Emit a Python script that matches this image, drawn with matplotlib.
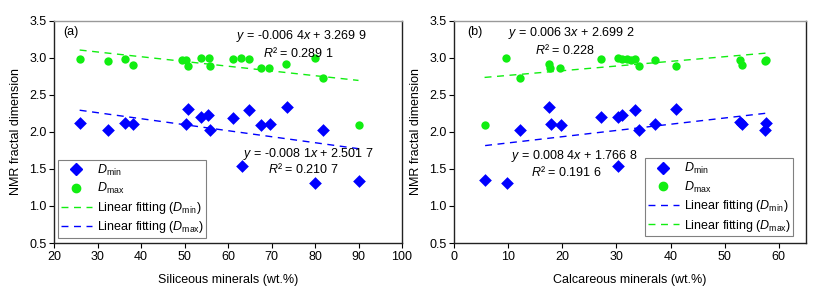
import matplotlib
matplotlib.use("Agg")
import matplotlib.pyplot as plt
import numpy as np
from matplotlib.lines import Line2D

plt.rcParams['font.family'] = ['Liberation Sans', 'DejaVu Sans']
plt.rcParams['mathtext.fontset'] = 'custom'
plt.rcParams['mathtext.rm'] = 'Liberation Sans'
plt.rcParams['mathtext.it'] = 'Liberation Sans:italic'
plt.rcParams['mathtext.bf'] = 'Liberation Sans:bold'

# Panel (a): siliceous minerals
sil_dmax_x = [25.9, 32.3, 36.3, 38.2, 49.5, 50.3, 50.7, 53.7, 55.6, 55.8, 61.1, 63.0, 64.8, 67.6, 69.5, 73.4, 79.9, 81.8, 90.0]
sil_dmax_y = [2.98, 2.955, 2.98, 2.90, 2.97, 2.975, 2.89, 2.99, 2.99, 2.89, 2.985, 3.00, 2.985, 2.86, 2.86, 2.92, 3.00, 2.73, 2.09]
sil_dmin_x = [25.9, 32.3, 36.3, 38.2, 50.4, 50.8, 53.7, 55.5, 55.9, 61.2, 63.2, 64.8, 67.6, 69.6, 73.5, 80.0, 81.9, 90.1]
sil_dmin_y = [2.12, 2.03, 2.12, 2.11, 2.10, 2.31, 2.20, 2.23, 2.03, 2.19, 1.535, 2.30, 2.09, 2.10, 2.34, 1.305, 2.02, 1.34]
sil_fit_max = (-0.0064, 3.2699)
sil_fit_min = (-0.0081, 2.5017)

# Panel (b): calcareous minerals
cal_dmax_x = [5.6, 9.6, 12.2, 17.5, 17.7, 19.6, 27.2, 30.3, 31.1, 31.9, 32.7, 33.5, 34.2, 37.2, 41.0, 52.8, 53.2, 57.5, 57.7]
cal_dmax_y = [2.09, 2.995, 2.73, 2.92, 2.86, 2.86, 2.985, 2.99, 2.985, 2.985, 2.97, 2.985, 2.89, 2.976, 2.89, 2.976, 2.90, 2.955, 2.975]
cal_dmin_x = [5.7, 9.7, 12.2, 17.6, 17.8, 19.7, 27.2, 30.3, 30.3, 31.1, 33.5, 34.2, 37.2, 41.0, 52.8, 53.2, 57.4, 57.6]
cal_dmin_y = [1.35, 1.31, 2.03, 2.34, 2.11, 2.095, 2.20, 2.20, 1.535, 2.23, 2.30, 2.03, 2.10, 2.305, 2.13, 2.11, 2.03, 2.12]
cal_fit_max = (0.0063, 2.6992)
cal_fit_min = (0.0084, 1.7668)

BLUE = '#0000ff'
GREEN = '#11ee11'
FS = 9

fig = plt.figure(figsize=(8.17, 2.9), dpi=100)
axa = fig.add_axes([54/817, 1-243/290, 348/817, 222.3/290])
axb = fig.add_axes([454.3/817, 1-243/290, 351.4/817, 222.3/290])


def style(ax):
    for s in ['left', 'bottom', 'right']:
        ax.spines[s].set_color('#222222')
        ax.spines[s].set_linewidth(1.0)
    ax.spines['top'].set_color('#999999')
    ax.spines['top'].set_linewidth(1.0)
    ax.tick_params(direction='out', length=3.5, width=0.8, labelsize=FS, top=False, right=False, pad=2)
    ax.set_ylim(0.5, 3.5)
    ax.set_yticks([0.5, 1.0, 1.5, 2.0, 2.5, 3.0, 3.5])
    ax.set_yticklabels(['0.5', '1.0', '1.5', '2.0', '2.5', '3.0', '3.5'])
    ax.set_ylabel('NMR fractal dimension', fontsize=FS, labelpad=5)


def fit_line(ax, xs, coef, color):
    x0, x1 = min(xs), max(xs)
    xx = np.array([x0, x1])
    ax.plot(xx, coef[0]*xx + coef[1], ls=(0, (5, 4)), color=color, lw=1.0, zorder=2)


dmin_lbl = r'$D_\mathrm{min}$'
dmax_lbl = r'$D_\mathrm{max}$'

# ---- panel (a)
style(axa)
axa.set_xlim(20, 100)
axa.set_xticks(range(20, 101, 10))
axa.scatter(sil_dmin_x, sil_dmin_y, marker='D', s=42, color=BLUE, zorder=3, linewidths=0)
axa.scatter(sil_dmax_x, sil_dmax_y, marker='o', s=36, color=GREEN, zorder=3, linewidths=0)
fit_line(axa, sil_dmax_x, sil_fit_max, GREEN)
fit_line(axa, sil_dmin_x, sil_fit_min, BLUE)
axa.set_xlabel('Siliceous minerals (wt.%)', fontsize=FS, labelpad=8)
axa.text(0.026, 0.949, '(a)', transform=axa.transAxes, fontsize=FS, va='center', ha='left')
axa.text(76.9, 3.30, r'$y$ = -0.006 4$x$ + 3.269 9', fontsize=FS, ha='center', va='center')
axa.text(76.2, 3.07, r'$R$² = 0.289 1', fontsize=FS, ha='center', va='center')
axa.text(78.5, 1.70, r'$y$ = -0.008 1$x$ + 2.501 7', fontsize=FS, ha='center', va='center')
axa.text(77.4, 1.50, r'$R$² = 0.210 7', fontsize=FS, ha='center', va='center')

handles_a = [
    Line2D([], [], marker='D', color=BLUE, ls='none', markersize=6.5),
    Line2D([], [], marker='o', color=GREEN, ls='none', markersize=6),
    Line2D([], [], color=GREEN, ls=(0, (5, 4)), lw=1.0),
    Line2D([], [], color=BLUE, ls=(0, (5, 4)), lw=1.0),
]
labels_a = [dmin_lbl, dmax_lbl, r'Linear fitting ($D_\mathrm{min}$)', r'Linear fitting ($D_\mathrm{max}$)']
leg = axa.legend(handles_a, labels_a, loc='lower left', bbox_to_anchor=(0.0115, 0.0225), borderaxespad=0,
                 fontsize=FS, frameon=True, fancybox=False, edgecolor='#808080', framealpha=1,
                 handlelength=2.5, handletextpad=0.4, labelspacing=0.28, borderpad=0.2)
leg.get_frame().set_linewidth(0.8)

# ---- panel (b)
style(axb)
axb.set_xlim(0, 65)
axb.set_xticks(range(0, 61, 10))
axb.scatter(cal_dmin_x, cal_dmin_y, marker='D', s=42, color=BLUE, zorder=3, linewidths=0)
axb.scatter(cal_dmax_x, cal_dmax_y, marker='o', s=36, color=GREEN, zorder=3, linewidths=0)
fit_line(axb, cal_dmax_x, cal_fit_max, GREEN)
fit_line(axb, cal_dmin_x, cal_fit_min, BLUE)
axb.set_xlabel('Calcareous minerals (wt.%)', fontsize=FS, labelpad=8)
axb.text(0.036, 0.949, '(b)', transform=axb.transAxes, fontsize=FS, va='center', ha='left')
axb.text(21.6, 3.33, r'$y$ = 0.006 3$x$ + 2.699 2', fontsize=FS, ha='center', va='center')
axb.text(20.5, 3.11, r'$R$² = 0.228', fontsize=FS, ha='center', va='center')
axb.text(22.1, 1.67, r'$y$ = 0.008 4$x$ + 1.766 8', fontsize=FS, ha='center', va='center')
axb.text(20.8, 1.46, r'$R$² = 0.191 6', fontsize=FS, ha='center', va='center')

handles_b = [
    Line2D([], [], marker='D', color=BLUE, ls='none', markersize=6.5),
    Line2D([], [], marker='o', color=GREEN, ls='none', markersize=6),
    Line2D([], [], color=BLUE, ls=(0, (5, 4)), lw=1.0),
    Line2D([], [], color=GREEN, ls=(0, (5, 4)), lw=1.0),
]
labels_b = [dmin_lbl, dmax_lbl, r'Linear fitting ($D_\mathrm{min}$)', r'Linear fitting ($D_\mathrm{max}$)']
legb = axb.legend(handles_b, labels_b, loc='lower right', bbox_to_anchor=(0.965, 0.031), borderaxespad=0,
                  fontsize=FS, frameon=True, fancybox=False, edgecolor='#808080', framealpha=1,
                  handlelength=2.5, handletextpad=0.4, labelspacing=0.28, borderpad=0.2)
legb.get_frame().set_linewidth(0.8)

fig.savefig('out.png', dpi=100)
